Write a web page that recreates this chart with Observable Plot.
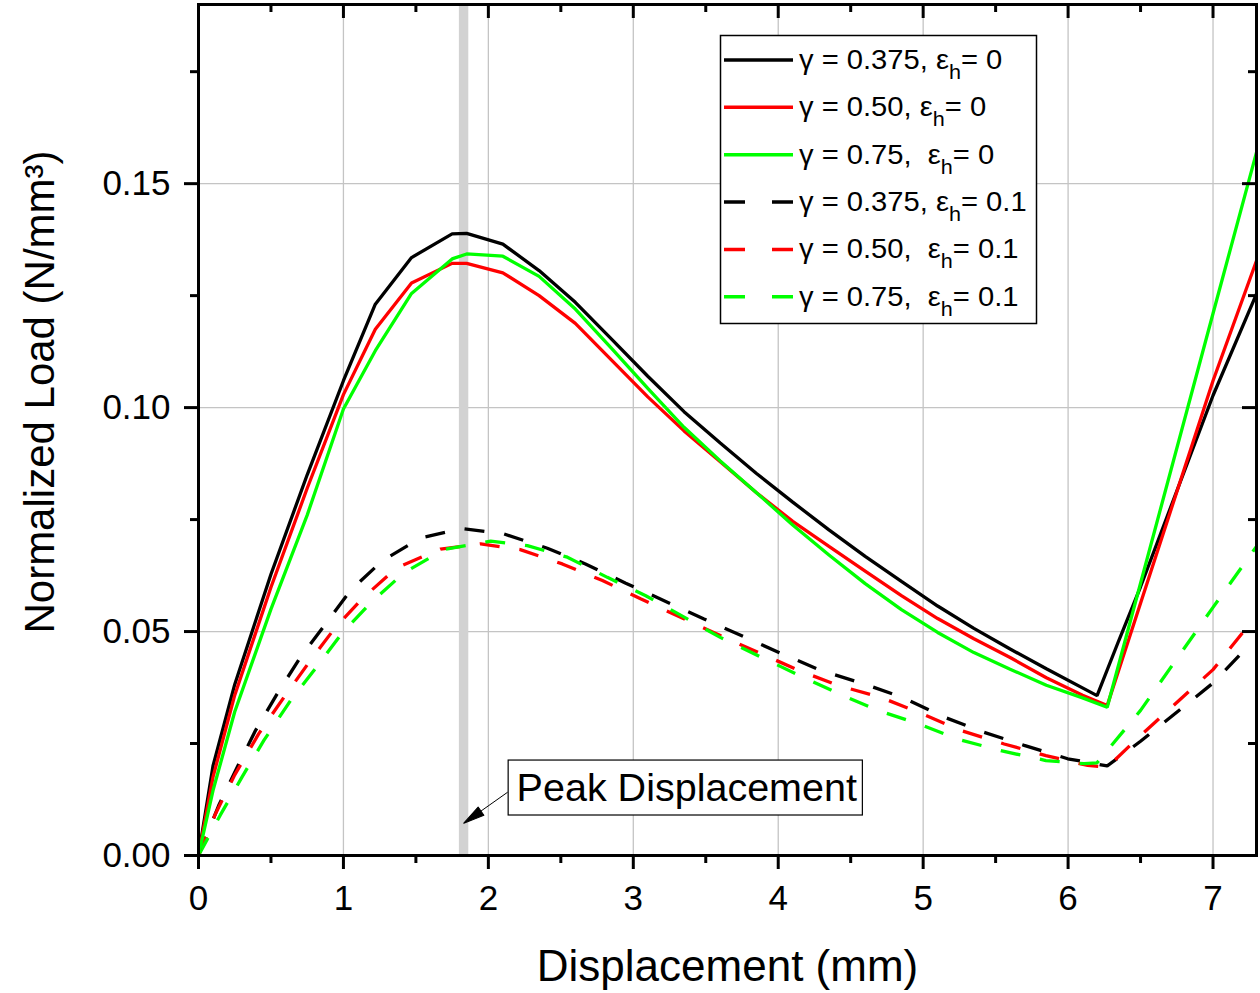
<!DOCTYPE html>
<html>
<head>
<meta charset="utf-8">
<script src="https://cdn.jsdelivr.net/npm/d3@7"></script>
<script src="https://cdn.jsdelivr.net/npm/@observablehq/plot@0.6"></script>
<style>
  body { margin: 0; background: #fff; }
  #wrap { position: relative; width: 1260px; height: 993px; }
</style>
</head>
<body>
<div id="wrap"></div>
<script>
// ---------- data ----------
// gamma = 0.375, eps_h = 0 (black solid)
const xS1 = [0, 0.1, 0.25, 0.5, 0.75, 1.0, 1.22, 1.47, 1.75, 1.85, 2.1, 2.35, 2.6, 2.85, 3.1, 3.35, 3.6, 3.85, 4.1, 4.35, 4.6, 4.85, 5.1, 5.35, 5.6, 5.85, 6.2, 6.35, 6.5, 7.0, 7.3];
const yS1 = [0, 0.0200, 0.0382, 0.0628, 0.0850, 0.1060, 0.1231, 0.1335, 0.1388, 0.1389, 0.1365, 0.1306, 0.1235, 0.1153, 0.1070, 0.0991, 0.0921, 0.0853, 0.0789, 0.0727, 0.0668, 0.0612, 0.0557, 0.0507, 0.0461, 0.0417, 0.0357, 0.0480, 0.0600, 0.1027, 0.1254];
// gamma = 0.50, eps_h = 0 (red solid)
const xS2 = [0, 0.1, 0.25, 0.5, 0.75, 1.0, 1.22, 1.47, 1.75, 1.85, 2.1, 2.35, 2.6, 2.85, 3.1, 3.35, 3.6, 3.85, 4.1, 4.35, 4.6, 4.85, 5.1, 5.35, 5.6, 5.85, 6.1, 6.27, 7.0, 7.3];
const yS2 = [0, 0.0175, 0.0358, 0.0599, 0.0820, 0.1029, 0.1175, 0.1278, 0.1322, 0.1322, 0.1301, 0.1250, 0.1188, 0.1106, 0.1024, 0.0948, 0.0879, 0.0810, 0.0746, 0.0690, 0.0635, 0.0580, 0.0529, 0.0484, 0.0442, 0.0397, 0.0358, 0.0335, 0.1060, 0.1328];
// gamma = 0.75, eps_h = 0 (green solid)
const xS3 = [0, 0.1, 0.25, 0.5, 0.75, 1.0, 1.22, 1.47, 1.75, 1.85, 2.1, 2.35, 2.6, 2.85, 3.1, 3.35, 3.6, 3.85, 4.1, 4.35, 4.6, 4.85, 5.1, 5.35, 5.6, 5.85, 6.1, 6.27, 7.0, 7.3];
const yS3 = [0, 0.0145, 0.0321, 0.0550, 0.0760, 0.0997, 0.1127, 0.1255, 0.1332, 0.1343, 0.1338, 0.1293, 0.1220, 0.1132, 0.1043, 0.0956, 0.0881, 0.0810, 0.0738, 0.0671, 0.0607, 0.0549, 0.0498, 0.0453, 0.0416, 0.0380, 0.0352, 0.0331, 0.1210, 0.1570];
// gamma = 0.375, eps_h = 0.1 (black dashed)
const xD1 = [0, 0.14, 0.267, 0.393, 0.543, 0.704, 0.877, 1.049, 1.268, 1.532, 1.82, 2.107, 2.407, 2.67, 2.948, 3.488, 4.029, 4.294, 4.593, 4.858, 5.145, 5.421, 5.697, 5.997, 6.27, 6.5, 7.0, 7.25];
const yD1 = [0, 0.0112, 0.0197, 0.0279, 0.0361, 0.0443, 0.0517, 0.0592, 0.0658, 0.0709, 0.0730, 0.0718, 0.0686, 0.0651, 0.0608, 0.0528, 0.0450, 0.0413, 0.0383, 0.0353, 0.0309, 0.0275, 0.0246, 0.0216, 0.0200, 0.0255, 0.0385, 0.0470];
// gamma = 0.50, eps_h = 0.1 (red dashed)
const xD2 = [0, 0.12, 0.25, 0.416, 0.589, 0.762, 0.946, 1.141, 1.371, 1.67, 1.947, 2.22, 2.51, 2.787, 3.05, 3.6, 4.144, 4.42, 4.708, 4.995, 5.26, 5.559, 5.847, 6.135, 6.27, 6.5, 7.0, 7.26];
const yD2 = [0, 0.0095, 0.0180, 0.0272, 0.0353, 0.0431, 0.0510, 0.0577, 0.0643, 0.0684, 0.0696, 0.0683, 0.0651, 0.0614, 0.0573, 0.0491, 0.0413, 0.0379, 0.0353, 0.0316, 0.0279, 0.0249, 0.0223, 0.0201, 0.0197, 0.0268, 0.0415, 0.0520];
// gamma = 0.75, eps_h = 0.1 (green dashed)
const xD3 = [0, 0.15, 0.3, 0.451, 0.635, 0.796, 0.992, 1.187, 1.417, 1.693, 2.016, 2.269, 2.545, 2.821, 3.086, 3.6, 4.144, 4.42, 4.685, 4.97, 5.237, 5.536, 5.847, 6.11, 6.2, 6.5, 7.0, 7.3];
const yD3 = [0, 0.0090, 0.0175, 0.0257, 0.0346, 0.0413, 0.0497, 0.0564, 0.0631, 0.0683, 0.0702, 0.0692, 0.0666, 0.0621, 0.0580, 0.0487, 0.0402, 0.0361, 0.0324, 0.0294, 0.0260, 0.0234, 0.0212, 0.0205, 0.0207, 0.0324, 0.0554, 0.0690];

// legend labels: [main text, subscript, rest]
const legendPre  = ["γ = 0.375, ε", "γ = 0.50, ε", "γ = 0.75,  ε", "γ = 0.375, ε", "γ = 0.50,  ε", "γ = 0.75,  ε"];
const legendSub  = ["h", "h", "h", "h", "h", "h"];
const legendPost = ["= 0", "= 0", "= 0", "= 0.1", "= 0.1", "= 0.1"];

// axis ticks
const xMajor = [0, 1, 2, 3, 4, 5, 6, 7];
const xMinor = [0.5, 1.5, 2.5, 3.5, 4.5, 5.5, 6.5];
const yMajor = [0, 0.05, 0.10, 0.15];
const yMinor = [0.025, 0.075, 0.125, 0.175];
const xDomain = [0, 7.3];
const yDomain = [0, 0.19];

// peak displacement annotation
const peakBand = [1.80, 1.865];
const peakLabel = "Peak Displacement";
const peakBox = {x1: 2.14, x2: 4.584, y1: 0.00893, y2: 0.0212, tx: 3.369, ty: 0.0150};
const peakArrow = {x1: 2.133, y1: 0.01413, x2: 1.935, y2: 0.0096, tipX: 1.8306, tipY: 0.00721};

const xTitle = "Displacement (mm)";
const yTitle = "Normalized Load (N/mm³)";

// ---------- build ----------
const BLACK = "#000000", RED = "#ff0000", GREEN = "#00ff00";
const seriesDefs = [
  {xs: xS1, ys: yS1, color: BLACK, dash: null},
  {xs: xS2, ys: yS2, color: RED, dash: null},
  {xs: xS3, ys: yS3, color: GREEN, dash: null},
  {xs: xD1, ys: yD1, color: BLACK, dash: "20,20"},
  {xs: xD2, ys: yD2, color: RED, dash: "20,20"},
  {xs: xD3, ys: yD3, color: GREEN, dash: "20,20"}
];
const toRows = (xs, ys) => xs.map((x, i) => ({x, y: ys[i]}));

const W = 1260, H = 993;
const mL = 198, mR = 4, mT = 4, mB = 138;
const innerW = W - mL - mR, innerH = H - mT - mB;

const lineMarks = [];
[3, 4, 5, 0, 1, 2].forEach(i => {
  const s = seriesDefs[i];
  lineMarks.push(Plot.line(toRows(s.xs, s.ys), {
    x: "x", y: "y", stroke: s.color, strokeWidth: 3.3,
    strokeDasharray: s.dash ?? undefined, strokeLinejoin: "miter", strokeLinecap: "butt"
  }));
});

// filled arrowhead shape for Plot.vector
const headShape = {
  draw(context, l, r) {
    context.moveTo(-r, 0);
    context.lineTo(0, -l);
    context.lineTo(r, 0);
    context.closePath();
  }
};

const chart = Plot.plot({
  width: W, height: H,
  marginLeft: mL, marginRight: mR, marginTop: mT, marginBottom: mB,
  style: {fontFamily: "'Liberation Sans', Arial, sans-serif", fontSize: "35px", background: "white", color: "black"},
  x: {domain: xDomain, label: null},
  y: {domain: yDomain, label: null},
  marks: [
    Plot.gridX(xMajor.filter(d => d > 0), {stroke: "#c4c4c4", strokeOpacity: 1, strokeWidth: 1.3}),
    Plot.gridY(yMajor.filter(d => d > 0), {stroke: "#c4c4c4", strokeOpacity: 1, strokeWidth: 1.3}),
    Plot.rect([peakBand], {x1: d => d[0], x2: d => d[1], y1: yDomain[0], y2: yDomain[1], fill: "#d2d2d2"}),
    ...lineMarks,
    // annotation
    Plot.link([peakArrow], {x1: "x1", y1: "y1", x2: "x2", y2: "y2", stroke: "black", strokeWidth: 1}),
    Plot.vector([peakArrow], {x: "tipX", y: "tipY", length: 21, rotate: 235, anchor: "end", shape: headShape, r: 5, stroke: "black", fill: "black", strokeWidth: 1}),
    Plot.rect([peakBox], {x1: "x1", x2: "x2", y1: "y1", y2: "y2", fill: "white", stroke: "black", strokeWidth: 1.2}),
    Plot.text([peakBox], {x: "tx", y: "ty", text: () => peakLabel, fontSize: 39.5, fill: "black", textAnchor: "middle", lineAnchor: "middle"}),
    // bottom axis (outward ticks)
    Plot.axisX(xMajor, {anchor: "bottom", tickSize: 14, tickPadding: 16, strokeWidth: 3, fontSize: 35, tickFormat: d => String(d), label: null}),
    Plot.axisX(xMinor, {anchor: "bottom", tickSize: 8, strokeWidth: 3, tickFormat: () => "", label: null}),
    // left axis (outward ticks)
    Plot.axisY(yMajor, {anchor: "left", tickSize: 14, tickPadding: 14, strokeWidth: 3, fontSize: 35, tickFormat: d3.format(".2f"), label: null}),
    Plot.axisY(yMinor, {anchor: "left", tickSize: 8, strokeWidth: 3, tickFormat: () => "", label: null}),
    // top & right inward ticks
    Plot.tickX(xMajor, {x: d => d, insetBottom: innerH - 14, stroke: "black", strokeWidth: 3}),
    Plot.tickX(xMinor, {x: d => d, insetBottom: innerH - 8, stroke: "black", strokeWidth: 3}),
    Plot.tickY(yMajor, {y: d => d, insetLeft: innerW - 14, stroke: "black", strokeWidth: 3}),
    Plot.tickY(yMinor, {y: d => d, insetLeft: innerW - 8, stroke: "black", strokeWidth: 3}),
    Plot.frame({stroke: "black", strokeWidth: 3}),
    // axis titles
    Plot.text([xTitle], {frameAnchor: "bottom", dy: 111, text: d => d, fontSize: 44, fill: "black", textAnchor: "middle", lineAnchor: "middle"}),
    Plot.text([yTitle], {frameAnchor: "left", dx: -158, dy: -38, rotate: -90, text: d => d, fontSize: 42, fill: "black", textAnchor: "middle", lineAnchor: "middle"})
  ]
});

document.getElementById("wrap").appendChild(chart);

// ---------- legend (inside plot area, top right) ----------
const svg = d3.select(chart);
const lg = svg.append("g").attr("class", "legend").attr("text-anchor", "start");
const boxX = 720.5, boxY = 35.5, boxW = 316, boxH = 288;
lg.append("rect").attr("x", boxX).attr("y", boxY).attr("width", boxW).attr("height", boxH)
  .attr("fill", "white").attr("stroke", "black").attr("stroke-width", 1.5);
const rowStep = 47.35, row0 = 60;
seriesDefs.forEach((s, i) => {
  const cy = row0 + i * rowStep;
  lg.append("line").attr("x1", 724).attr("x2", 793).attr("y1", cy).attr("y2", cy)
    .attr("stroke", s.color).attr("stroke-width", 3.5)
    .attr("stroke-dasharray", s.dash ? "21,27" : null);
  const t = lg.append("text")
    .attr("transform", `translate(799,${cy + 9}) scale(1.08,1)`)
    .attr("text-anchor", "start")
    .attr("font-family", "'Liberation Sans', Arial, sans-serif")
    .attr("font-size", 27).attr("fill", "black")
    .style("white-space", "pre").attr("xml:space", "preserve");
  t.append("tspan").text(legendPre[i]);
  t.append("tspan").attr("font-size", 20).attr("dy", 10).text(legendSub[i]);
  t.append("tspan").attr("dy", -10).text(legendPost[i]);
});
</script>
</body>
</html>
